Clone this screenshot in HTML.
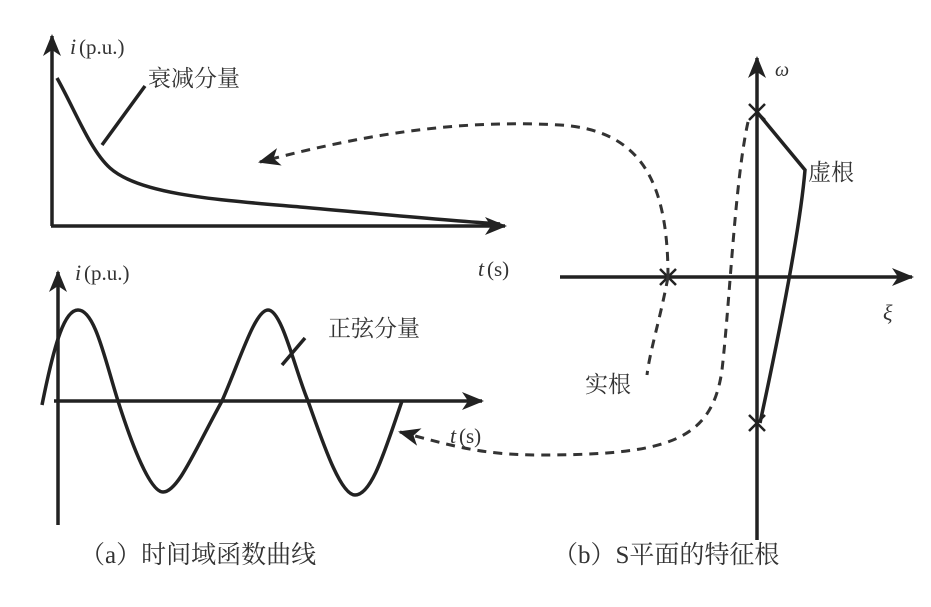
<!DOCTYPE html>
<html><head><meta charset="utf-8"><style>
body{margin:0;background:#fff}
svg text{font-family:"Liberation Serif","Noto Serif CJK SC","WenQuanYi Zen Hei","Noto Sans CJK SC",serif;fill:#333}
</style></head><body>
<svg width="931" height="602" viewBox="0 0 931 602" xmlns="http://www.w3.org/2000/svg">
<defs>
<marker id="b" markerWidth="22" markerHeight="18" refX="20" refY="9" orient="auto" markerUnits="userSpaceOnUse" viewBox="0 0 22 18"><path d="M0,0 L22,9 L0,18 L6,9z" fill="#222"/></marker>
</defs>
<g stroke="#222" stroke-width="3.5" fill="none">
<line x1="52" y1="226" x2="52" y2="36" marker-end="url(#b)"/>
<line x1="51" y1="226" x2="505" y2="226" marker-end="url(#b)"/>
<path d="M57,78 C75,110 90,150 110,168 C140,195 220,200 300,207 C380,214 440,220 500,224"/>
<line x1="102" y1="145" x2="145" y2="86"/>
<line x1="58" y1="525" x2="58" y2="272" marker-end="url(#b)"/>
<line x1="54" y1="401" x2="482" y2="401" marker-end="url(#b)"/>
<path d="M42,405 C55,340 65,310 78,310 C95,310 105,360 118,401 C132,445 150,492 163,492 C178,492 195,450 222,401 C240,360 255,310 268,310 C282,310 295,370 308,401 C322,440 340,495 355,495 C372,495 385,450 402,401"/>
<line x1="282" y1="365" x2="305" y2="338"/>
<line x1="757" y1="540" x2="757" y2="58" marker-end="url(#b)"/>
<line x1="560" y1="277" x2="912" y2="277" marker-end="url(#b)"/>
<path d="M757,112 L805,170 C800,230 780,330 760,423"/>
</g>
<g stroke="#222" stroke-width="2.5">
<path d="M749,104 L765,120 M765,104 L749,120"/>
<path d="M660,269 L676,285 M676,269 L660,285"/>
<path d="M749,415 L765,431 M765,415 L749,431"/>
</g>
<g stroke="#333" stroke-width="3" fill="none" stroke-dasharray="9,7">
<path d="M668,277 C668,180 640,130 560,125 C470,120 380,130 260,162" marker-end="url(#b)"/>
<path d="M668,277 C660,320 650,350 647,375"/>
<path d="M748,122 C735,180 730,300 722,370 C712,440 670,455 540,455 C480,455 450,445 400,432" marker-end="url(#b)"/>
</g>
<text x="70" y="54" font-size="22" font-style="italic">i</text><text x="79" y="54" font-size="21">(p.u.)</text>
<text x="148" y="86" font-size="23">衰减分量</text>
<text x="478" y="276" font-size="22" font-style="italic">t</text><text x="487" y="276" font-size="21">(s)</text>
<text x="75" y="280" font-size="22" font-style="italic">i</text><text x="84" y="280" font-size="21">(p.u.)</text>
<text x="328" y="336" font-size="23">正弦分量</text>
<text x="450" y="443" font-size="22" font-style="italic">t</text><text x="459" y="443" font-size="21">(s)</text>
<text x="775" y="76" font-size="20" font-style="italic">ω</text>
<text x="808" y="180" font-size="23">虚根</text>
<text x="883" y="320" font-size="22" font-style="italic">ξ</text>
<text x="585" y="392" font-size="23">实根</text>
<text x="80" y="563" font-size="25">（a）时间域函数曲线</text>
<text x="553" y="563" font-size="25">（b）S平面的特征根</text>
</svg>
</body></html>
